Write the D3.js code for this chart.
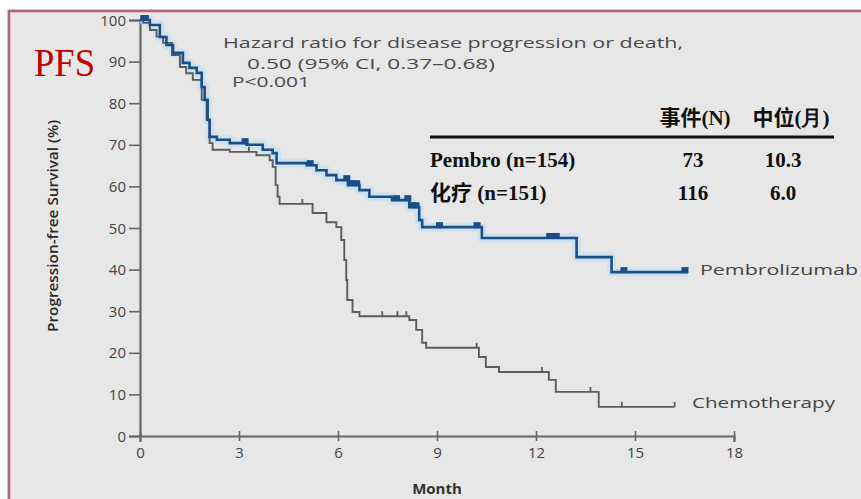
<!DOCTYPE html>
<html>
<head>
<meta charset="utf-8">
<script src="https://cdn.jsdelivr.net/npm/d3@7/dist/d3.min.js"></script>
<style>
  html, body { margin: 0; padding: 0; background: #ffffff; }
  svg { display: block; }
</style>
</head>
<body>
<svg id="chart" width="861" height="499"></svg>
<script>
// Kaplan–Meier progression-free survival, pembrolizumab vs chemotherapy
const xTicks = [0, 3, 6, 9, 12, 15, 18];
const yTicks = [0, 10, 20, 30, 40, 50, 60, 70, 80, 90, 100];

// [month, survival %] step points (value holds from that month on)
const pembroSteps = [
  [0, 100], [0.3, 98.8], [0.6, 95.9], [0.8, 94.0], [1.0, 92.1], [1.3, 89.7],
  [1.5, 88.5], [1.72, 87.3], [1.87, 83.9], [1.96, 80.8], [2.05, 76.0],
  [2.11, 71.9], [2.33, 71.2], [2.72, 70.4], [3.23, 70.0], [3.72, 68.8],
  [4.02, 68.0], [4.14, 65.6], [5.05, 65.1], [5.35, 63.9], [5.65, 62.7],
  [5.95, 61.5], [6.3, 60.3], [6.65, 59.1], [6.95, 57.5], [7.64, 56.7],
  [8.16, 55.0], [8.46, 51.9], [8.55, 50.2], [10.36, 47.6], [13.23, 43.0],
  [14.29, 39.4], [16.6, 39.4]
];
const chemoSteps = [
  [0, 100], [0.1, 99.3], [0.3, 97.6], [0.5, 96.0], [0.7, 94.5], [0.97, 91.6],
  [1.21, 88.7], [1.4, 87.2], [1.6, 85.6], [1.87, 80.8], [2.02, 76.0],
  [2.11, 70.4], [2.2, 68.8], [2.72, 68.3], [3.53, 67.5], [3.93, 66.3],
  [4.02, 64.7], [4.11, 60.3], [4.17, 57.5], [4.23, 55.8], [5.23, 53.6],
  [5.65, 51.4], [5.95, 50.2], [6.1, 47.1], [6.19, 42.3], [6.25, 37.5],
  [6.28, 32.7], [6.44, 29.8], [6.65, 28.8], [8.16, 27.9], [8.37, 25.5],
  [8.55, 22.4], [8.67, 21.2], [10.27, 19.0], [10.48, 16.6], [10.88, 15.4],
  [12.39, 13.5], [12.6, 10.6], [13.9, 7.0], [16.2, 7.0]
];
// censored observations (months)
const pembroCensor = [0.1, 0.15, 3.17, 5.14, 6.25, 6.4, 6.55, 7.76, 8.1, 8.25, 8.35, 9.06, 10.2, 12.4, 12.6, 14.65, 16.5];
const chemoCensor = [3.3, 4.92, 7.34, 7.8, 8.07, 10.2, 10.88, 12.18, 13.65, 14.6, 16.2];

const annotationLines = [
  "Hazard ratio for disease progression or death,",
  "0.50 (95% CI, 0.37\u20130.68)",
  "P<0.001"
];
const tableHeaders = ["事件(N)", "中位(月)"];
const tableRows = [
  { arm: "Pembro (n=154)", events: "73", median: "10.3" },
  { arm: "化疗 (n=151)", events: "116", median: "6.0" }
];
const seriesNames = ["Pembrolizumab", "Chemotherapy"];

const svg = d3.select("#chart");

// panel background and frame
svg.append("rect").attr("x", 0).attr("y", 0).attr("width", 861).attr("height", 499).attr("fill", "#ffffff");
svg.append("rect").attr("x", 9).attr("y", 11).attr("width", 900).attr("height", 520)
  .attr("fill", "#e7e7e7").attr("stroke", "#f2b8c0").attr("stroke-width", 4);
svg.append("rect").attr("x", 9).attr("y", 11).attr("width", 900).attr("height", 520)
  .attr("fill", "none").attr("stroke", "#8c5a68").attr("stroke-width", 1.6);

const x = d3.scaleLinear().domain([0, 18]).range([140, 734]);
const y = d3.scaleLinear().domain([0, 100]).range([436, 20]);

const axisColor = "#666";
const tickFont = "'Open Sans', 'DejaVu Sans', sans-serif";

// y axis
const yAxis = svg.append("g").attr("transform", "translate(140,0)")
  .call(d3.axisLeft(y).tickValues(yTicks).tickSize(11).tickPadding(3));
yAxis.select(".domain").attr("stroke", axisColor).attr("stroke-width", 2.2);
yAxis.selectAll(".tick line").attr("stroke", axisColor).attr("stroke-width", 1.6);
yAxis.selectAll(".tick text").attr("fill", "#444").style("font-family", tickFont)
  .style("font-size", "15px").attr("dy", "0.34em");

// x axis
const xAxis = svg.append("g").attr("transform", "translate(0,436)")
  .call(d3.axisBottom(x).tickValues(xTicks).tickSize(6).tickPadding(5));
xAxis.select(".domain").attr("stroke", axisColor).attr("stroke-width", 2.2);
xAxis.selectAll(".tick line").attr("stroke", axisColor).attr("stroke-width", 1.6)
  .attr("y1", -5).attr("y2", 5);
xAxis.selectAll(".tick text").attr("fill", "#444").style("font-family", tickFont)
  .style("font-size", "15px");

// axis titles
svg.append("text").attr("x", 437).attr("y", 494).attr("text-anchor", "middle")
  .style("font-family", tickFont).style("font-size", "15px").style("font-weight", "bold")
  .attr("fill", "#333").text("Month");
svg.append("text").attr("transform", "translate(58,226) rotate(-90)").attr("text-anchor", "middle")
  .style("font-family", "'Liberation Sans Narrow', 'Open Sans', sans-serif").style("font-size", "14px")
  .style("font-weight", "600")
  .attr("fill", "#2a2a2a").attr("textLength", 212).attr("lengthAdjust", "spacingAndGlyphs")
  .text("Progression-free Survival (%)");

// survival curves
const line = d3.line().x(d => x(d[0])).y(d => y(d[1])).curve(d3.curveStepAfter);
const stepValue = (steps, t) => {
  let v = steps[0][1];
  for (const s of steps) { if (s[0] <= t) v = s[1]; }
  return v;
};

// pembrolizumab: light glow beneath the dark line
svg.append("path").datum(pembroSteps).attr("d", line).attr("fill", "none")
  .attr("stroke", "#b9dcf5").attr("stroke-width", 9).attr("stroke-opacity", 0.55)
  .attr("stroke-linejoin", "round");
svg.append("path").datum(chemoSteps).attr("d", line).attr("fill", "none")
  .attr("stroke", "#5c5c5c").attr("stroke-width", 1.9);
svg.append("path").datum(pembroSteps).attr("d", line).attr("fill", "none")
  .attr("stroke", "#1b4e86").attr("stroke-width", 2.6);

// censor marks
svg.append("g").selectAll("rect").data(pembroCensor).join("rect")
  .attr("x", d => x(d) - 3).attr("y", d => y(stepValue(pembroSteps, d)) - 5)
  .attr("width", 7).attr("height", 6).attr("fill", "#1b4e86");
svg.append("g").selectAll("line").data(chemoCensor).join("line")
  .attr("x1", d => x(d)).attr("x2", d => x(d))
  .attr("y1", d => y(stepValue(chemoSteps, d)) - 5).attr("y2", d => y(stepValue(chemoSteps, d)))
  .attr("stroke", "#5c5c5c").attr("stroke-width", 1.8);

// hazard ratio annotation
const annoX = [223, 247, 232];
const annoY = [48, 69, 87];
const annoLen = [460, 248, 78];
svg.append("g").selectAll("text").data(annotationLines).join("text")
  .attr("x", (d, i) => annoX[i]).attr("y", (d, i) => annoY[i])
  .attr("textLength", (d, i) => annoLen[i]).attr("lengthAdjust", "spacingAndGlyphs")
  .style("font-family", tickFont).style("font-size", "15px").attr("fill", "#4a4a4a")
  .text(d => d);

// PFS tag
svg.append("text").attr("x", 34).attr("y", 76)
  .style("font-family", "'Liberation Serif', 'Times New Roman', serif").style("font-size", "40px")
  .attr("fill", "#c00000").attr("textLength", 61).attr("lengthAdjust", "spacingAndGlyphs").text("PFS");

// summary table
const serif = "'Liberation Serif', 'Times New Roman', serif";
const cjk = "'Noto Sans CJK SC', sans-serif";
const tableSize = "21px";
const colX = [695, 791];
const hdr = svg.append("g").style("font-weight", "bold").attr("fill", "#111");
tableHeaders.forEach((h, i) => {
  const t = hdr.append("text").attr("x", colX[i]).attr("y", 125).attr("text-anchor", "middle")
    .style("font-size", tableSize);
  const m = h.match(/^([^()]+)(\(.*\))$/);
  t.append("tspan").style("font-family", cjk).text(m[1]);
  t.append("tspan").style("font-family", serif).text(m[2]);
});
svg.append("line").attr("x1", 430).attr("x2", 834).attr("y1", 137).attr("y2", 137)
  .attr("stroke", "#111").attr("stroke-width", 3);
const rowY = [167, 200];
tableRows.forEach((r, i) => {
  const t = svg.append("text").attr("x", 430).attr("y", rowY[i]).style("font-weight", "bold")
    .style("font-size", tableSize).attr("fill", "#111");
  const m = r.arm.match(/^(\S+)( .*)$/);
  const isCjk = /[\u4e00-\u9fff]/.test(m[1]);
  t.append("tspan").style("font-family", isCjk ? cjk : serif).text(m[1]);
  t.append("tspan").style("font-family", serif).text(m[2]);
  svg.append("text").attr("x", 693).attr("y", rowY[i]).attr("text-anchor", "middle")
    .style("font-family", serif).style("font-weight", "bold").style("font-size", tableSize)
    .attr("fill", "#111").text(r.events);
  svg.append("text").attr("x", 783).attr("y", rowY[i]).attr("text-anchor", "middle")
    .style("font-family", serif).style("font-weight", "bold").style("font-size", tableSize)
    .attr("fill", "#111").text(r.median);
});

// series labels at curve ends
const labelPos = [[700, 275, 158], [692, 408, 143]];
svg.append("g").selectAll("text").data(seriesNames).join("text")
  .attr("x", (d, i) => labelPos[i][0]).attr("y", (d, i) => labelPos[i][1])
  .attr("textLength", (d, i) => labelPos[i][2]).attr("lengthAdjust", "spacingAndGlyphs")
  .style("font-family", tickFont).style("font-size", "15px").attr("fill", "#444")
  .text(d => d);
</script>
</body>
</html>
